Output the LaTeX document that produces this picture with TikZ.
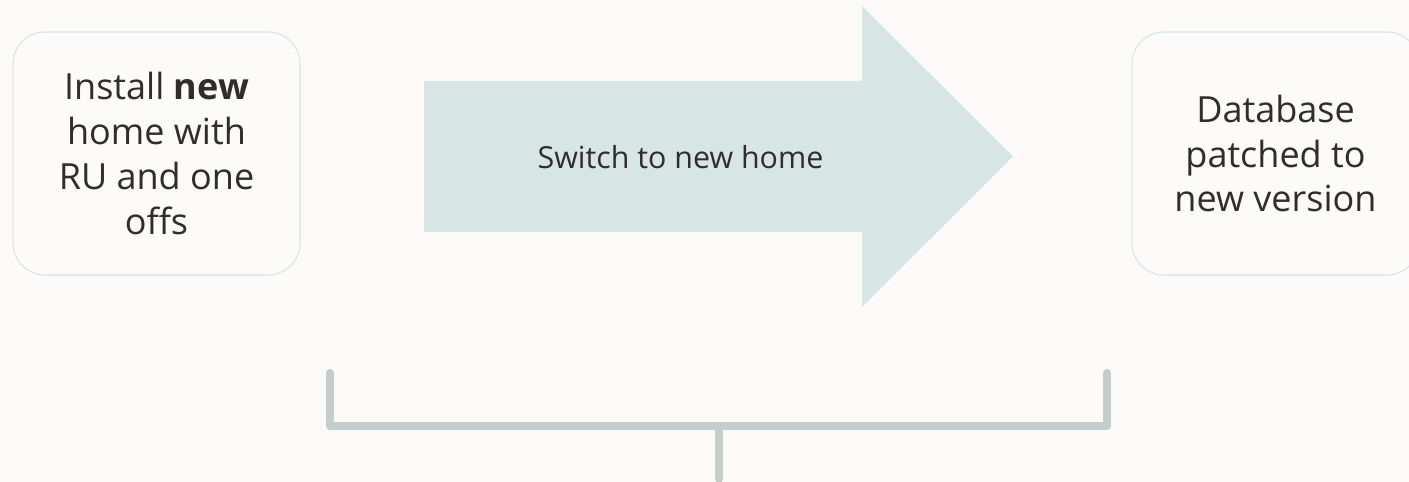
\documentclass[tikz,border=0pt]{standalone}
\usepackage{fontspec}
\setmainfont{Open Sans}
\usepackage{tikz}
\usetikzlibrary{positioning, calc}
\definecolor{pagebg}{RGB}{251, 250, 248}
\definecolor{boxline}{RGB}{214, 228, 230}
\definecolor{boxfill}{RGB}{252, 251, 250}
\definecolor{arrowteal}{RGB}{215, 229, 229}
\definecolor{bracketgray}{RGB}{196, 205, 204}
\definecolor{inkdark}{RGB}{49, 45, 42}

\begin{document}
\begin{tikzpicture}[x=0.02cm, y=-0.02cm,
    stepbox/.style={draw=boxline, fill=boxfill, line width=0.6pt, rounded corners=0.64cm,
        minimum width=5.74cm, minimum height=4.86cm, align=center, text=inkdark,
        font=\fontsize{20.5}{25.5}\selectfont},
    bracket/.style={draw=bracketgray, line width=4.6pt, line cap=round, line join=round}
]
\useasboundingbox (0,0) rectangle (1409,482);
\fill[pagebg] (0,0) rectangle (1409,482);
\clip (0,0) rectangle (1409,482);

\node[stepbox] (install) at (156.5,153.5) {Install \textbf{new}\\home with\\RU and one\\offs};
\node[stepbox] (patched) at (1275.5,153.5) {Database\\patched to\\new version};

% big arrow in the middle
\coordinate (tail) at (424,156.5);
\coordinate (tip) at (1013,156.5);
\fill[arrowteal] (424,81) -- (862,81) -- (862,6) -- (tip) -- (862,307) -- (862,232) -- (424,232) -- cycle;
\node[text=inkdark, font=\fontsize{17.3}{20}\selectfont] (switch) at (680.5,157) {Switch to new home};

% bracket below
\coordinate (bl) at (330,373);
\coordinate (br) at (1107,373);
\coordinate (bm) at (719,426);
\coordinate (bb) at (719,479);
\draw[bracket] (bl) |- (bm) -| (br);
\draw[bracket] (bm) -- (bb);
\end{tikzpicture}
\end{document}
